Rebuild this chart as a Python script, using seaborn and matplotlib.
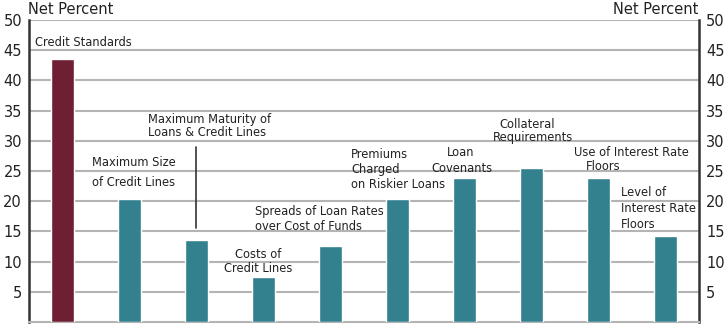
import matplotlib
matplotlib.use("Agg")
import matplotlib.pyplot as plt
import seaborn as sns
import pandas as pd

# Net percent of banks reporting tighter terms
categories = [
    "Credit Standards",
    "Maximum Size of Credit Lines",
    "Maximum Maturity of Loans & Credit Lines",
    "Costs of Credit Lines",
    "Spreads of Loan Rates over Cost of Funds",
    "Premiums Charged on Riskier Loans",
    "Loan Covenants",
    "Collateral Requirements",
    "Use of Interest Rate Floors",
    "Level of Interest Rate Floors",
]
net_percent = [43.6, 20.4, 13.6, 7.5, 12.6, 20.4, 23.8, 25.5, 23.8, 14.3]
groups = ["standards"] + ["terms"] * 9
y_ticks = [5, 10, 15, 20, 25, 30, 35, 40, 45, 50]

MAROON = "#6e1f33"
TEAL = "#33808f"
GRID = "#b4b4b4"
SPINE = "#333333"
TEXT = "#222222"

sns.set_style("white")
plt.rcParams["font.family"] = ["DejaVu Sans"]

df = pd.DataFrame({"category": categories, "value": net_percent, "group": groups})

fig = plt.figure(figsize=(7.25, 3.25), dpi=100)
ax = fig.add_axes([29 / 725, 3 / 325, 670 / 725, 302 / 325])

sns.barplot(
    data=df, x="category", y="value", hue="group",
    palette={"standards": MAROON, "terms": TEAL},
    order=categories, width=0.33, dodge=False, legend=False,
    ax=ax, zorder=3, saturation=1,
)

ax.set_xlim(-0.5, len(categories) - 0.5)
ax.set_ylim(0, 50)
ax.set_xticks([])
ax.set_xlabel("")
ax.set_ylabel("")
ax.set_yticks(y_ticks)
ax.yaxis.grid(True, color=GRID, linewidth=1.5, zorder=0)
ax.set_axisbelow(True)
ax.tick_params(axis="y", length=0, labelsize=10.5, pad=5, colors=TEXT,
               labelleft=True, labelright=True)

for side in ("left", "right"):
    ax.spines[side].set_color(SPINE)
    ax.spines[side].set_linewidth(1.8)
ax.spines["bottom"].set_color(GRID)
ax.spines["bottom"].set_linewidth(1.5)
ax.spines["top"].set_visible(False)

fig.text(28 / 725, 1 - 9 / 325, "Net Percent", fontsize=10.5, va="center", ha="left", color=TEXT)
fig.text(698 / 725, 1 - 9 / 325, "Net Percent", fontsize=10.5, va="center", ha="right", color=TEXT)


def px(x, y):
    """Pixel position -> data coordinates of the bar axes."""
    return (x - 29) / 67 - 0.5, (322 - y) / 6.04


def label(x, y, s, ha="left"):
    dx, dy = px(x, y)
    ax.text(dx, dy, s, ha=ha, va="center", fontsize=8.3, color=TEXT, zorder=4)


label(35, 43, "Credit Standards")
label(92, 163, "Maximum Size")
label(92, 183, "of Credit Lines")
label(148, 120, "Maximum Maturity of")
label(148, 132, "Loans & Credit Lines")
label(258, 254, "Costs of", ha="center")
label(258, 268, "Credit Lines", ha="center")
label(255, 211, "Spreads of Loan Rates")
label(255, 227, "over Cost of Funds")
label(351, 154, "Premiums")
label(351, 170, "Charged")
label(351, 185, "on Riskier Loans")
label(461, 153, "Loan", ha="center")
label(462, 168, "Covenants", ha="center")
label(527, 124, "Collateral", ha="center")
label(533, 137, "Requirements", ha="center")
label(574, 153, "Use of Interest Rate")
label(586, 167, "Floors")
label(621, 192, "Level of")
label(621, 208, "Interest Rate")
label(621, 224, "Floors")

# leader line from the maturity label down to its bar
x0, y_top = px(196, 147)
_, y_bot = px(196, 228)
ax.plot([x0, x0], [y_top, y_bot], color=SPINE, linewidth=1.2, zorder=4)

fig.savefig("out.png", dpi=100)
